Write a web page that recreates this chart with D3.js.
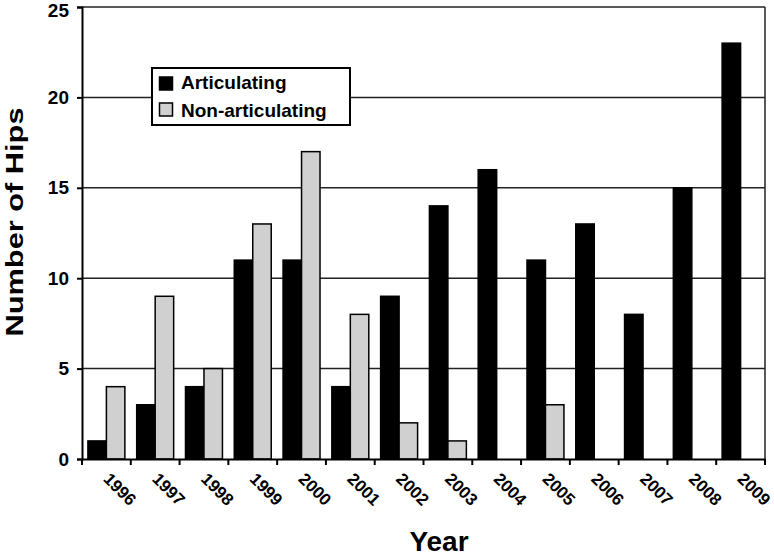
<!DOCTYPE html>
<html>
<head>
<meta charset="utf-8">
<script src="https://cdn.jsdelivr.net/npm/d3@7"></script>
<style>
  body { margin: 0; background: #fff; }
  text { font-family: Arial, "Liberation Sans", sans-serif; font-weight: bold; }
</style>
</head>
<body>
<svg id="chart" width="774" height="556"></svg>
<script>
const years = ['1996', '1997', '1998', '1999', '2000', '2001', '2002', '2003', '2004', '2005', '2006', '2007', '2008', '2009'];
const articulating = [1, 3, 4, 11, 11, 4, 9, 14, 16, 11, 13, 8, 15, 23];
const nonArticulating = [4, 9, 5, 13, 17, 8, 2, 1, 0, 3, 0, 0, 0, 0];
const seriesNames = ['Articulating', 'Non-articulating'];
const seriesColors = ['#000000', '#d0d0d0'];
const yTicks = [0, 5, 10, 15, 20, 25];

const svg = d3.select('#chart');
const plotLeft = 82, plotRight = 765, plotTop = 7, plotBottom = 459;

const x = d3.scaleBand().domain(years).range([plotLeft, plotRight]).paddingInner(0).paddingOuter(0);
const xs = d3.scaleBand().domain(seriesNames).range([0, x.bandwidth()]).paddingInner(0).paddingOuter(0.32);
const y = d3.scaleLinear().domain([0, 25]).range([plotBottom, plotTop]);

// gridlines
svg.append('g')
    .selectAll('line')
    .data(yTicks.filter(d => d > 0))
    .join('line')
    .attr('x1', plotLeft).attr('x2', plotRight)
    .attr('y1', d => y(d)).attr('y2', d => y(d))
    .attr('stroke', '#222').attr('stroke-width', 1.5);

// right border
svg.append('line')
    .attr('x1', plotRight).attr('x2', plotRight).attr('y1', plotTop).attr('y2', plotBottom)
    .attr('stroke', '#222').attr('stroke-width', 1.5);

// bars
const data = years.map((yr, i) => ({ year: yr, values: [articulating[i], nonArticulating[i]] }));
const groups = svg.append('g').selectAll('g')
    .data(data)
    .join('g')
    .attr('transform', d => `translate(${x(d.year)},0)`);

groups.selectAll('rect')
    .data(d => d.values.map((v, j) => ({ name: seriesNames[j], value: v, color: seriesColors[j] })).filter(e => e.value > 0))
    .join('rect')
    .attr('x', d => xs(d.name))
    .attr('width', xs.bandwidth())
    .attr('y', d => y(d.value))
    .attr('height', d => y(0) - y(d.value))
    .attr('fill', d => d.color)
    .attr('stroke', '#000').attr('stroke-width', 1.5);

// y axis
const yAxis = svg.append('g')
    .attr('transform', `translate(${plotLeft},0)`)
    .call(d3.axisLeft(y).tickValues(yTicks).tickSize(5).tickPadding(8));
yAxis.select('.domain').attr('stroke', '#000').attr('stroke-width', 2);
yAxis.selectAll('.tick line').attr('stroke', '#000').attr('stroke-width', 2);
yAxis.selectAll('.tick text').attr('font-size', 19).attr('fill', '#000')
    .attr('dy', d => d === 25 ? '0.5em' : '0.32em')
    .style('font-family', 'Arial, "Liberation Sans", sans-serif').style('font-weight', 'bold');

// x axis
const xAxis = svg.append('g')
    .attr('transform', `translate(0,${plotBottom})`)
    .call(d3.axisBottom(x).tickSize(0).tickFormat(''));
xAxis.select('.domain').attr('stroke', '#000').attr('stroke-width', 2);

// category boundary ticks
svg.append('g')
    .selectAll('line')
    .data(years.concat(['end']))
    .join('line')
    .attr('x1', (d, i) => plotLeft + i * x.step())
    .attr('x2', (d, i) => plotLeft + i * x.step())
    .attr('y1', plotBottom).attr('y2', plotBottom + 6)
    .attr('stroke', '#000').attr('stroke-width', 2);

// rotated year labels
svg.append('g')
    .selectAll('text')
    .data(years)
    .join('text')
    .attr('transform', d => `translate(${x(d) + x.bandwidth() / 2 - 4},${plotBottom + 21}) rotate(45)`)
    .attr('font-size', 17)
    .attr('fill', '#000')
    .text(d => d);

// axis titles
svg.append('text')
    .attr('x', 439).attr('y', 551)
    .attr('text-anchor', 'middle')
    .attr('font-size', 28)
    .attr('fill', '#000')
    .text('Year');

svg.append('text')
    .attr('transform', `translate(23,222) rotate(-90)`)
    .attr('text-anchor', 'middle')
    .attr('font-size', 24)
    .attr('textLength', 229)
    .attr('lengthAdjust', 'spacingAndGlyphs')
    .attr('fill', '#000')
    .text('Number of Hips');

// legend
const legend = svg.append('g').attr('transform', 'translate(152,68)');
legend.append('rect')
    .attr('width', 198).attr('height', 57)
    .attr('fill', '#fff').attr('stroke', '#000').attr('stroke-width', 2);
seriesNames.forEach((name, i) => {
    legend.append('rect')
        .attr('x', 7.5).attr('y', 9 + i * 26)
        .attr('width', 13).attr('height', 13)
        .attr('fill', seriesColors[i]).attr('stroke', '#000').attr('stroke-width', 1.5);
    legend.append('text')
        .attr('x', 29).attr('y', 21 + i * 28)
        .attr('font-size', 19)
        .attr('fill', '#000')
        .text(name);
});
</script>
</body>
</html>
